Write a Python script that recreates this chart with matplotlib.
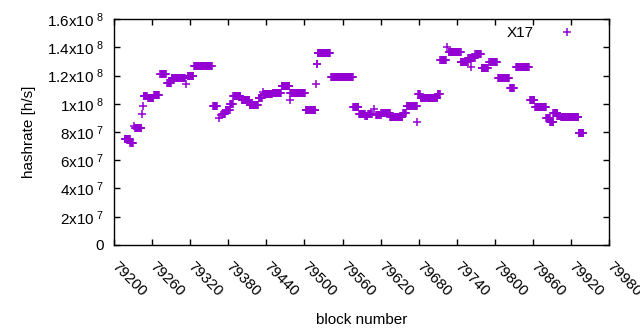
import numpy as np
import matplotlib
matplotlib.use("Agg")
import matplotlib.pyplot as plt
import matplotlib.transforms as mtransforms

plt.rcParams["font.family"] = ["Liberation Sans", "DejaVu Sans"]
plt.rcParams["mathtext.fontset"] = "custom"
plt.rcParams["mathtext.rm"] = "Liberation Sans"
plt.rcParams["mathtext.default"] = "regular"

# runs of blocks with the same hashrate: first block, last block, hashrate (x1e8)
run_start = [79217, 79226, 79232, 79233, 79245, 79246, 79247, 79254, 79263, 79273,
             79284, 79291, 79314, 79316, 79326, 79356, 79366, 79368, 79370, 79376,
             79383, 79388, 79401, 79414, 79428, 79434, 79436, 79450, 79464, 79477,
             79478, 79502, 79518, 79519, 79521, 79542, 79577, 79586, 79596, 79600,
             79609, 79613, 79621, 79635, 79655, 79661, 79678, 79679, 79683, 79710,
             79714, 79724, 79727, 79746, 79758, 79762, 79769, 79779, 79791, 79805,
             79824, 79833, 79855, 79863, 79881, 79887, 79892, 79898, 79904, 79932]
run_end = [79225, 79230, 79232, 79243, 79245, 79246, 79252, 79262, 79271, 79282,
           79290, 79312, 79314, 79325, 79354, 79362, 79366, 79368, 79375, 79382,
           79387, 79399, 79413, 79427, 79433, 79434, 79449, 79463, 79476, 79477,
           79501, 79517, 79518, 79520, 79540, 79576, 79585, 79595, 79599, 79606,
           79609, 79620, 79634, 79654, 79660, 79677, 79678, 79682, 79709, 79713,
           79723, 79724, 79746, 79757, 79768, 79762, 79778, 79789, 79803, 79822,
           79830, 79853, 79862, 79880, 79886, 79892, 79898, 79903, 79931, 79939]
run_value = [0.750, 0.720, 0.840, 0.828, 0.925, 0.984, 1.055, 1.039, 1.062, 1.208,
             1.145, 1.180, 1.138, 1.194, 1.265, 0.983, 0.897, 0.920, 0.930, 0.956,
             1.000, 1.057, 1.030, 0.990, 1.039, 1.085, 1.069, 1.074, 1.123, 1.030,
             1.074, 0.954, 1.138, 1.281, 1.357, 1.189, 0.975, 0.925, 0.910, 0.925,
             0.963, 0.920, 0.932, 0.906, 0.932, 0.986, 0.869, 1.069, 1.043, 1.069,
             1.307, 1.404, 1.364, 1.298, 1.326, 1.262, 1.350, 1.251, 1.298, 1.180,
             1.114, 1.258, 1.024, 0.975, 0.897, 0.873, 0.937, 0.913, 0.904, 0.791]

blocks = []
hashrate = []
for s, e, v in zip(run_start, run_end, run_value):
    for b in range(s, e + 1):
        blocks.append(b)
        hashrate.append(v * 1e8)

color = "#9400d3"

fig = plt.figure(figsize=(6.4, 3.3), dpi=100)
ax = fig.add_axes([0.178, 0.2576, 0.774, 0.6848])
ax.plot(blocks, hashrate, linestyle="none", marker="+", markersize=5.5,
        markeredgewidth=1.1, color=color, label="X17")

ax.set_xlim(79200, 79980)
ax.set_ylim(0, 1.6e8)
ax.set_xticks(np.arange(79200, 79981, 60))
yt = np.arange(0, 1.61e8, 2e7)
ax.set_yticks(yt)
ylabels = []
for v in yt:
    if v == 0:
        ylabels.append("0")
    else:
        e = int(np.floor(np.log10(v) + 1e-9))
        m = v / 10 ** e
        ms = ("%g" % round(m, 2))
        ylabels.append(ms + "x10$^{\\ %d}$" % e)
ax.set_yticklabels(ylabels)

ax.tick_params(direction="in", length=4, width=1, top=True, right=True,
               labelsize=11, colors="black")
ax.tick_params(axis="y", pad=7)
ax.tick_params(axis="x", pad=10)
shift = mtransforms.ScaledTranslation(5 / 100, 0, fig.dpi_scale_trans)
for lab in ax.get_xticklabels():
    lab.set_rotation(-45)
    lab.set_ha("left")
    lab.set_va("top")
    lab.set_rotation_mode("anchor")
    lab.set_transform(lab.get_transform() + shift)
for sp in ax.spines.values():
    sp.set_linewidth(1)
    sp.set_color("black")

ax.set_xlabel("block number", fontsize=11, labelpad=10)
ax.set_ylabel("hashrate [h/s]", fontsize=11, labelpad=8)

ax.legend(loc="upper right", frameon=False, markerfirst=False, fontsize=11,
          handlelength=2.5, handletextpad=0.95, borderaxespad=0.3,
          bbox_to_anchor=(0.975, 1.016))

fig.savefig("out.png", dpi=100)
